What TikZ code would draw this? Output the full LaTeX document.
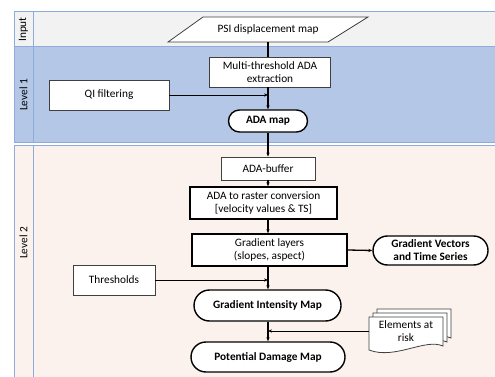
\documentclass[tikz,border=0pt]{standalone}
\usepackage{fontspec}
\setmainfont{Carlito}
\usetikzlibrary{arrows.meta,calc,positioning}
\definecolor{laneline}{RGB}{143,170,220}
\definecolor{inputgray}{RGB}{242,242,242}
\definecolor{levelblue}{RGB}{180,199,231}
\definecolor{levelpeach}{RGB}{251,242,237}

\begin{document}
\begin{tikzpicture}[
    x=1pt, y=-1pt,
    >={Stealth[length=4pt,width=3.2pt]},
    every node/.style={font=\fontsize{11.3}{13}\selectfont},
    lanebox/.style={draw=laneline, line width=1pt, fill=#1},
    lanelabel/.style={rotate=90, font=\fontsize{11.3}{13}\selectfont},
    procbox/.style={rectangle, draw=black!75, fill=white, line width=0.8pt, align=center, inner sep=2pt},
    mainbox/.style={procbox, draw=black, line width=1.4pt},
    termbox/.style={rectangle, rounded corners=#1, draw=black, fill=white, line width=1.4pt, align=center, inner sep=2pt, font=\fontsize{11.3}{13}\selectfont\bfseries},
    arrow/.style={->, line width=1.3pt},
    thinarrow/.style={->, line width=0.7pt},
    docline/.style={draw=black!75, fill=white, line width=0.8pt}
]

\clip (0,0) rectangle (495,377);
\fill[white] (0,0) rectangle (495,377);

% Swimlanes
\draw[lanebox=inputgray] (14,12) rectangle (500,47);
\draw[lanebox=levelblue] (14,47) rectangle (500,142);
\draw[lanebox=levelpeach] (14,145) rectangle (500,390);
\draw[laneline, line width=1pt] (33,12) -- (33,142);
\draw[laneline, line width=1pt] (33,145) -- (33,390);

\node[lanelabel] (linput) at (23.5,29.5) {Input};
\node[lanelabel] (lone) at (23.5,95) {Level 1};
\node[lanelabel] (ltwo) at (23.5,243) {Level 2};

% Input: PSI map
\draw[procbox] (168,42) -- (328,42) -- (368,17) -- (203,17) -- cycle;
\node (psi) at (268,29.5) {PSI displacement map};

% Level 1
\node[procbox, minimum width=121, minimum height=30] (multi) at (270,72) {Multi-threshold ADA\\extraction};
\node[procbox, minimum width=120, minimum height=30] (qi) at (109,95) {QI filtering};
\node[termbox=11pt, minimum width=79, minimum height=22] (adamap) at (268,121) {ADA map};

\draw[line width=1.3pt] (psi.south |- 0,42) -- (psi.south |- multi.north);
\draw[arrow] (multi.south -| adamap) -- (adamap.north);
\draw[thinarrow] (qi.east) -- (qi.east -| adamap);

% Level 2
\node[procbox, minimum width=94, minimum height=23] (buffer) at (268,168.5) {ADA-buffer};
\node[mainbox, minimum width=147, minimum height=32] (raster) at (263.5,203) {ADA to raster conversion\\{[}velocity values \& TS{]}};
\node[mainbox, minimum width=155, minimum height=32] (grad) at (269.5,250) {Gradient layers\\(slopes, aspect)};
\node[termbox=14.5pt, minimum width=115, minimum height=29] (gvts) at (430.5,250.5) {Gradient Vectors\\and Time Series};
\node[procbox, minimum width=82, minimum height=30] (thr) at (114,280) {Thresholds};
\node[termbox=15.5pt, minimum width=147, minimum height=31] (gim) at (267.5,305.5) {Gradient Intensity Map};
\node[termbox=15pt, minimum width=154, minimum height=30] (pdm) at (268,357) {Potential Damage Map};

% Elements at risk (stacked documents)
\foreach \d in {8,4,0}
    \draw[docline] (369+\d,317-\d) -- (443+\d,317-\d) -- (443+\d,346-\d)
        .. controls (425+\d,338-\d) and (395+\d,360-\d) .. (369+\d,350-\d) -- cycle;
\node[minimum width=74, minimum height=30, align=center] (elem) at (406,331) {Elements at\\risk};

% Flow
\draw[arrow] (adamap.south) -- (adamap.south |- buffer.north);
\draw[arrow] (buffer.south) -- (buffer.south |- raster.north);
\draw[arrow] (raster.south -| buffer) -- (grad.north -| buffer);
\draw[arrow] (grad.east) -- (gvts.west);
\draw[arrow] (grad.south -| buffer) -- (gim.north -| buffer);
\draw[arrow] (gim.south -| buffer) -- (pdm.north -| buffer);
\draw[thinarrow] (thr.east) -- (thr.east -| buffer);
\draw[thinarrow] (elem.west) -- (elem.west -| buffer);

\end{tikzpicture}
\end{document}
